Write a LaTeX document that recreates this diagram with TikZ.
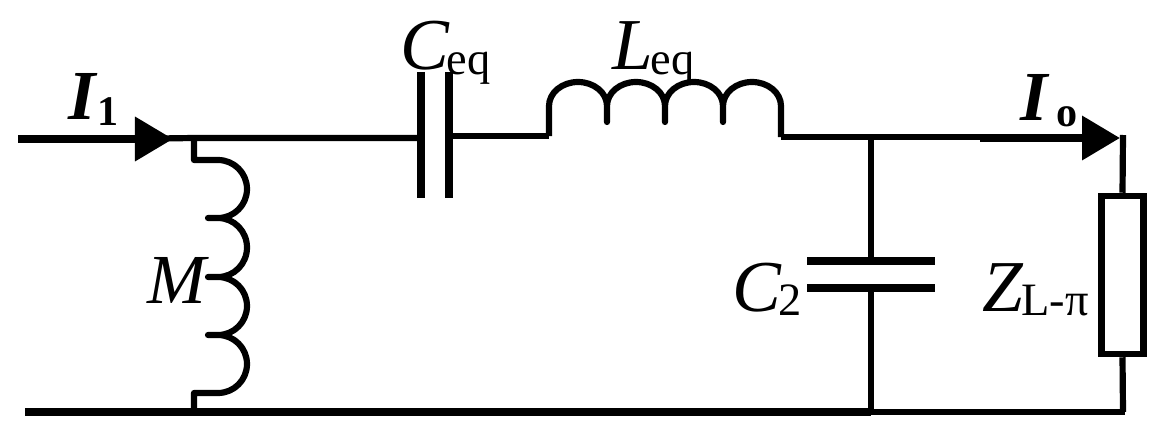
\documentclass[tikz,border=0pt]{standalone}
\usepackage{amsmath}
\usepackage{fontspec}
\setmainfont{Liberation Serif}
\usetikzlibrary{positioning, calc, arrows.meta}
\newcommand{\sublbl}[3]{{\fontsize{52}{52}\selectfont\itshape #2}\kern#1\raisebox{-3.5pt}{\fontsize{33}{33}\selectfont #3}}
\newcommand{\curlbl}[3]{{\fontsize{50}{50}\selectfont\bfseries\itshape #2}\kern#1\raisebox{-4.5pt}{\fontsize{30}{30}\selectfont\bfseries #3}}
\tikzset{
    wire/.style={line width=4.4pt, line cap=butt, line join=round, black},
    mainline/.style={line width=5.4pt, black},
    plate/.style={line width=5.6pt, black},
    lbl/.style={inner sep=0pt, anchor=base west},
    load/.style={draw, line width=4.6pt, minimum width=1.05cm, minimum height=3.95cm, inner sep=0pt},
    flow/.style={-{Triangle[length=0.95cm, width=1.07cm]}, line width=5.4pt}
}
\begin{document}
\begin{tikzpicture}[x=0.025cm, y=-0.025cm]
    \useasboundingbox (0,0) rectangle (1170,440);

    % Wires
    \coordinate (in) at (18,139);
    \coordinate (jM) at (194,138);
    \coordinate (capL) at (421,138);
    \coordinate (capR) at (449,136);
    \coordinate (indL) at (549,136);
    \coordinate (indR) at (781,137);
    \coordinate (jC) at (871,137);
    \coordinate (corner) at (1123,137);
    \coordinate (botL) at (25,412);
    \coordinate (botM) at (194,412);
    \coordinate (botC) at (871,412);
    \coordinate (botR) at (1123,412);

    \draw[flow] (in) -- (173,139);
    \draw[wire] (158,138.5) -- (jM) -- (capL);
    \draw[wire] (capR) -- (indL);
    \draw[wire] (indR) -- (jC) -- (980,137);
    \draw[flow] (980,138) -- (1120,138);
    \draw[mainline] (botL) -- (botC);
    \draw[wire] (botC) -- (1125.2,412);

    % Ceq
    \draw[plate] (421,72) -- (421,198);
    \draw[plate] (449,72) -- (449,198);

    % Leq
    \draw[wire] (indL) -- (549,106)
        arc[start angle=180, end angle=360, x radius=29, y radius=24] -- ++(0,16) -- ++(0,-16)
        arc[start angle=180, end angle=360, x radius=29, y radius=24] -- ++(0,16) -- ++(0,-16)
        arc[start angle=180, end angle=360, x radius=29, y radius=24] -- ++(0,16) -- ++(0,-16)
        arc[start angle=180, end angle=360, x radius=29, y radius=24] -- (indR);

    % M
    \draw[wire] (jM) -- (194,160) -- (218,160)
        arc[start angle=-90, end angle=90, x radius=29, y radius=29] -- ++(-10,0) -- ++(10,0)
        arc[start angle=-90, end angle=90, x radius=29, y radius=29.5] -- ++(-10,0) -- ++(10,0)
        arc[start angle=-90, end angle=90, x radius=29, y radius=29] -- ++(-10,0) -- ++(10,0)
        arc[start angle=-90, end angle=90, x radius=29, y radius=29] -- (194,393) -- (botM);

    % C2
    \draw[wire] (jC) -- (871,261);
    \draw[plate] (807,261) -- (935,261);
    \draw[plate] (807,288) -- (935,288);
    \draw[wire] (871,288) -- (botC);

    % Load
    \node[load] (zl) at (1122.5,275) {};
    \draw[wire] (1123,135) -- (zl.north);
    \draw[wire] (zl.south) -- (botR);

    % Labels
    \node[lbl] (i1) at (68,119) {\curlbl{1pt}{I}{1}};
    \node[lbl] (ceq) at (400,70) {\sublbl{-1.5pt}{C}{eq}};
    \node[lbl] (leq) at (612,70) {\sublbl{-1.5pt}{L}{eq}};
    \node[lbl] (io) at (1020,120) {\curlbl{6pt}{I}{o}};
    \node[lbl] (m) at (147,303) {{\fontsize{50}{50}\selectfont\itshape M}};
    \node[lbl] (c2) at (732,311) {\sublbl{-2pt}{C}{2}};
    \node[lbl] (zlbl) at (982,311) {\sublbl{-1pt}{Z}{L-π}};
\end{tikzpicture}
\end{document}
